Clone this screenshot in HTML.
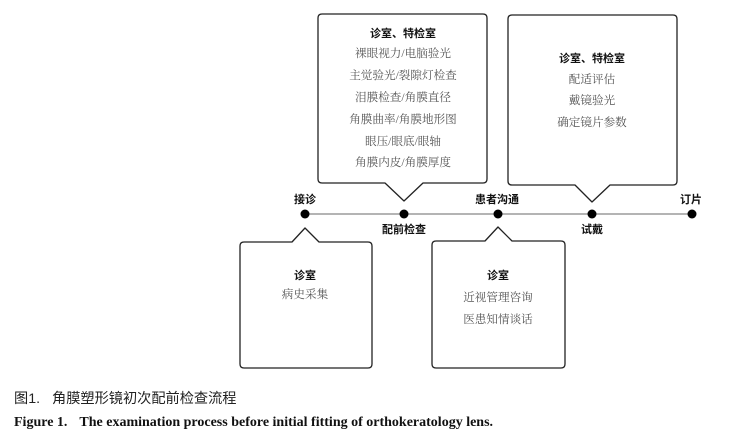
<!DOCTYPE html>
<html><head><meta charset="utf-8"><style>
html,body{margin:0;padding:0;background:#fff;width:750px;height:435px;overflow:hidden}
svg{display:block}
.h{font-family:"Liberation Sans","Noto Sans CJK SC",sans-serif;font-weight:bold;font-size:11px;fill:#111;text-anchor:middle}
.i{font-family:"Liberation Serif","Noto Serif CJK SC",serif;font-size:11.6px;fill:#555;text-anchor:middle}
.l{font-family:"Liberation Sans","Noto Sans CJK SC",sans-serif;font-weight:bold;font-size:11px;fill:#111;text-anchor:middle}
.b{fill:#fff;stroke:#222;stroke-width:1.3;stroke-linejoin:round}
</style></head><body>
<svg width="750" height="435" viewBox="0 0 750 435">
<path class="b" d="M322,14 H483 Q487,14 487,18 V179 Q487,183 483,183 H423 L404,201 L385,183 H322 Q318,183 318,179 V18 Q318,14 322,14 Z"/>
<text class="h" x="403" y="37">诊室、特检室</text>
<text class="i" x="403" y="57">裸眼视力/电脑验光</text>
<text class="i" x="403" y="79">主觉验光/裂隙灯检查</text>
<text class="i" x="403" y="101">泪膜检查/角膜直径</text>
<text class="i" x="403" y="123">角膜曲率/角膜地形图</text>
<text class="i" x="403" y="145">眼压/眼底/眼轴</text>
<text class="i" x="403" y="166">角膜内皮/角膜厚度</text>
<path class="b" d="M512,15 H673 Q677,15 677,19 V181 Q677,185 673,185 H610 L592,202 L575,185 H512 Q508,185 508,181 V19 Q508,15 512,15 Z"/>
<text class="h" x="592" y="62">诊室、特检室</text>
<text class="i" x="592" y="83">配适评估</text>
<text class="i" x="592" y="104">戴镜验光</text>
<text class="i" x="592" y="126">确定镜片参数</text>
<line x1="305" y1="214" x2="692" y2="214" stroke="#888" stroke-width="1.2"/>
<circle cx="305" cy="214" r="4.5" fill="#000"/>
<circle cx="404" cy="214" r="4.5" fill="#000"/>
<circle cx="498" cy="214" r="4.5" fill="#000"/>
<circle cx="592" cy="214" r="4.5" fill="#000"/>
<circle cx="692" cy="214" r="4.5" fill="#000"/>
<text class="l" x="305" y="203">接诊</text>
<text class="l" x="404" y="233">配前检查</text>
<text class="l" x="497" y="203">患者沟通</text>
<text class="l" x="592" y="233">试戴</text>
<text class="l" x="691" y="203">订片</text>
<path class="b" d="M244,242 H292 L305,228 L319,242 H368 Q372,242 372,246 V364 Q372,368 368,368 H244 Q240,368 240,364 V246 Q240,242 244,242 Z"/>
<text class="h" x="305" y="279">诊室</text>
<text class="i" x="305" y="298">病史采集</text>
<path class="b" d="M436,241 H485 L498,227 L512,241 H561 Q565,241 565,245 V364 Q565,368 561,368 H436 Q432,368 432,364 V245 Q432,241 436,241 Z"/>
<text class="h" x="498" y="279">诊室</text>
<text class="i" x="498" y="301">近视管理咨询</text>
<text class="i" x="498" y="323">医患知情谈话</text>
<text x="14" y="403" style="font-family:'Liberation Sans','Noto Sans CJK SC',sans-serif;font-size:14.2px;fill:#222">图1.<tspan dx="12">角膜塑形镜初次配前检查流程</tspan></text>
<text x="14" y="426" style="font-family:'Liberation Serif',serif;font-weight:bold;font-size:14px;fill:#111">Figure 1.<tspan dx="12">The examination process before initial fitting of orthokeratology lens.</tspan></text>
</svg>
</body></html>
